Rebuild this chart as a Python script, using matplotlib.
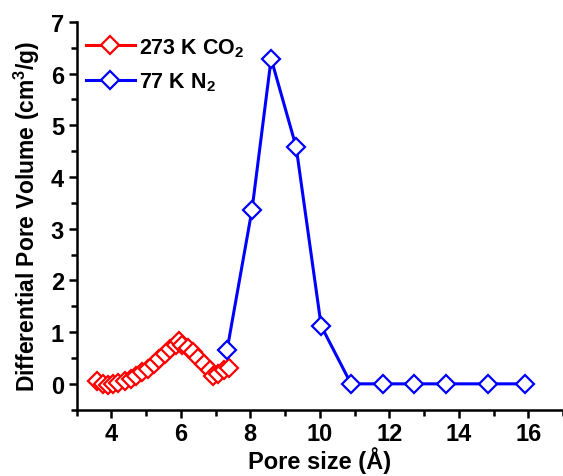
import matplotlib.pyplot as plt
from matplotlib.ticker import MultipleLocator

plt.rcParams['font.family'] = ['Liberation Sans', 'DejaVu Sans']
plt.rcParams['font.weight'] = 'bold'
plt.rcParams['mathtext.fontset'] = 'custom'
plt.rcParams['mathtext.rm'] = 'Liberation Sans:bold'
plt.rcParams['mathtext.bf'] = 'Liberation Sans:bold'
plt.rcParams['mathtext.default'] = 'bf'

# CO2 (273 K) pore size distribution
co2_x = [3.60, 3.76, 3.90, 4.05, 4.20, 4.39, 4.56, 4.72, 4.89, 5.06, 5.22, 5.38,
         5.54, 5.70, 5.85, 5.95, 6.04, 6.20, 6.34, 6.50, 6.67, 6.84, 6.94, 7.08,
         7.25, 7.39]
co2_y = [0.06, 0.00, -0.03, 0.00, 0.01, 0.05, 0.09, 0.15, 0.22, 0.29, 0.39, 0.48,
         0.58, 0.67, 0.76, 0.82, 0.76, 0.69, 0.61, 0.50, 0.39, 0.27, 0.15, 0.19,
         0.26, 0.30]

# N2 (77 K) pore size distribution
n2_x = [7.33, 8.05, 8.60, 9.32, 10.04, 10.90, 11.82, 12.72, 13.64, 14.83, 15.90]
n2_y = [0.65, 3.37, 6.29, 4.58, 1.12, 0.0, 0.0, 0.0, 0.0, 0.0, 0.0]

fig = plt.figure(figsize=(5.63, 4.77), dpi=100)
ax = fig.add_axes([0.136, 0.139, 0.864, 0.813])

style = dict(lw=2.2, marker='D', ms=9, mfc='white', mew=1.6, clip_on=False)
ax.plot(co2_x, co2_y, color='#ff0000', label='273 K CO$_{2}$', **style)
ax.plot(n2_x, n2_y, color='#0000ff', label='77 K N$_{2}$', **style)

ax.set_xlim(3, 17)
ax.set_ylim(-0.5, 7)
ax.xaxis.set_major_locator(MultipleLocator(2))
ax.xaxis.set_minor_locator(MultipleLocator(1))
ax.yaxis.set_major_locator(MultipleLocator(1))
ax.yaxis.set_minor_locator(MultipleLocator(0.5))

for s in ['top', 'right']:
    ax.spines[s].set_visible(False)
for s in ['left', 'bottom']:
    ax.spines[s].set_linewidth(1.8)
ax.tick_params(which='major', direction='out', length=6, width=1.8, labelsize=17,
               pad=3)
ax.tick_params(which='minor', direction='out', length=4, width=1.8)

ax.set_xlabel('Pore size (Å)', fontsize=17, fontweight='bold', labelpad=1)
ax.set_ylabel('Differential Pore Volume (cm$^{3}$/g)', fontsize=16.5,
              fontweight='bold', labelpad=6)

ax.legend(loc='upper left', frameon=False, fontsize=15.5, handlelength=2.3,
          borderaxespad=0.2, bbox_to_anchor=(-0.008, 0.997), labelspacing=0.55,
          handletextpad=0.2)

fig.savefig('out.png', dpi=100)
